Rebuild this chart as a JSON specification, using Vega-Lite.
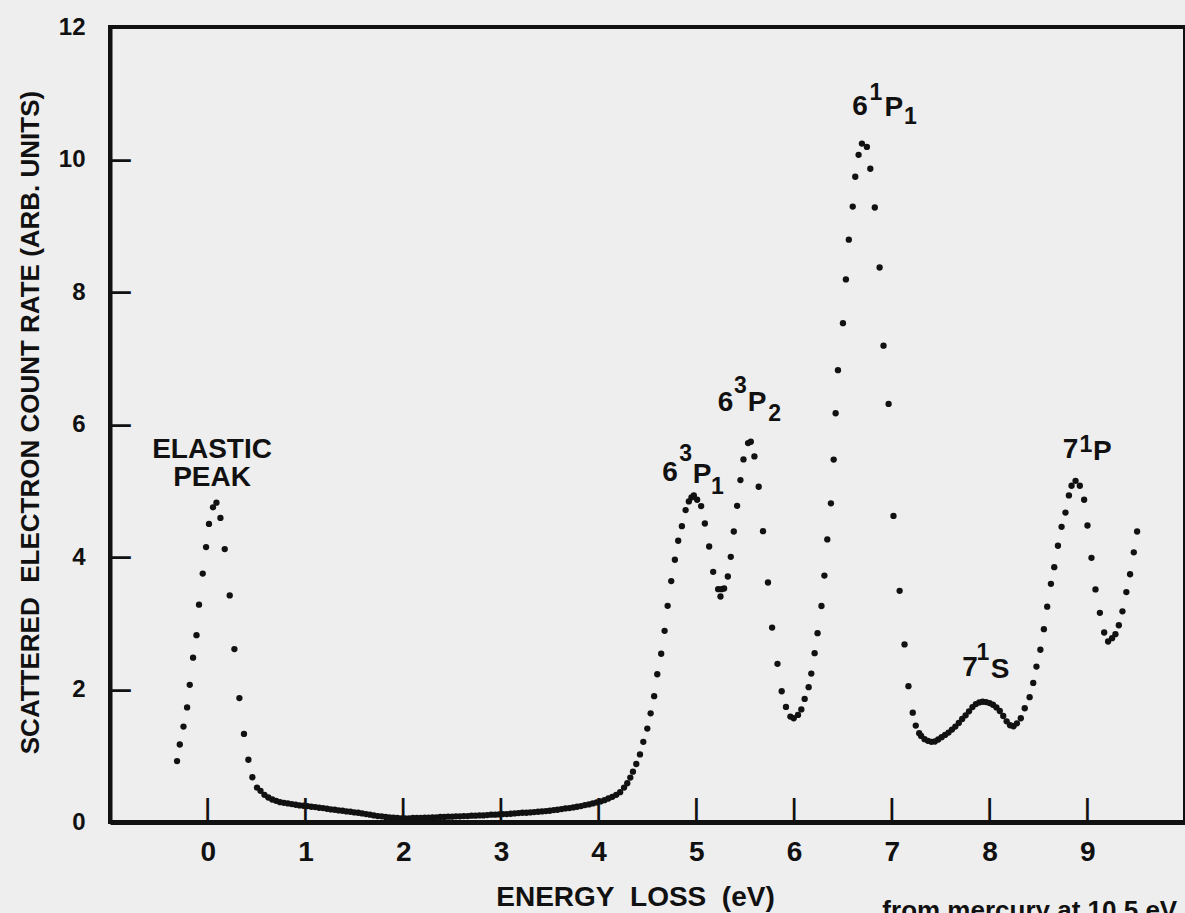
{
  "$schema": "https://vega.github.io/schema/vega-lite/v6.json",
  "width": 1075,
  "height": 795,
  "autosize": "none",
  "padding": {"left": 110, "top": 27, "right": 0, "bottom": 91},
  "background": "#eeeeee",
  "config": {
    "view": {"stroke": "#111111", "strokeWidth": 4},
    "axis": {
      "grid": false,
      "ticks": false,
      "domainColor": "#111111",
      "labelColor": "#111111",
      "titleColor": "#111111",
      "labelFont": "Liberation Sans",
      "labelFontWeight": "bold",
      "titleFont": "Liberation Sans",
      "titleFontWeight": "bold",
      "labelFlush": false,
      "labelOverlap": false,
      "format": "d"
    }
  },
  "datasets": {
    "one": [{}],
    "spectrum": [
      {"energy": -0.314, "counts": 0.92}, {"energy": -0.286, "counts": 1.17}, {"energy": -0.248, "counts": 1.44},
      {"energy": -0.211, "counts": 1.73}, {"energy": -0.184, "counts": 2.07}, {"energy": -0.150, "counts": 2.48},
      {"energy": -0.115, "counts": 2.82}, {"energy": -0.089, "counts": 3.28}, {"energy": -0.051, "counts": 3.75},
      {"energy": -0.017, "counts": 4.15}, {"energy": 0.013, "counts": 4.50}, {"energy": 0.054, "counts": 4.75},
      {"energy": 0.089, "counts": 4.82}, {"energy": 0.130, "counts": 4.59}, {"energy": 0.174, "counts": 4.12},
      {"energy": 0.225, "counts": 3.42}, {"energy": 0.273, "counts": 2.61}, {"energy": 0.324, "counts": 1.87},
      {"energy": 0.371, "counts": 1.33}, {"energy": 0.416, "counts": 0.94}, {"energy": 0.457, "counts": 0.675},
      {"energy": 0.504, "counts": 0.52},
      {"energy": 0.54, "counts": 0.47}, {"energy": 0.58, "counts": 0.41}, {"energy": 0.62, "counts": 0.37},
      {"energy": 0.66, "counts": 0.34}, {"energy": 0.70, "counts": 0.32}, {"energy": 0.74, "counts": 0.30},
      {"energy": 0.78, "counts": 0.29}, {"energy": 0.82, "counts": 0.28}, {"energy": 0.86, "counts": 0.27},
      {"energy": 0.90, "counts": 0.26}, {"energy": 0.94, "counts": 0.25}, {"energy": 0.98, "counts": 0.245},
      {"energy": 1.02, "counts": 0.24}, {"energy": 1.06, "counts": 0.23}, {"energy": 1.10, "counts": 0.225},
      {"energy": 1.14, "counts": 0.215}, {"energy": 1.18, "counts": 0.21}, {"energy": 1.22, "counts": 0.20},
      {"energy": 1.26, "counts": 0.19}, {"energy": 1.30, "counts": 0.185}, {"energy": 1.34, "counts": 0.175},
      {"energy": 1.38, "counts": 0.17}, {"energy": 1.42, "counts": 0.16}, {"energy": 1.46, "counts": 0.155},
      {"energy": 1.50, "counts": 0.145}, {"energy": 1.54, "counts": 0.14}, {"energy": 1.58, "counts": 0.13},
      {"energy": 1.62, "counts": 0.12}, {"energy": 1.66, "counts": 0.11}, {"energy": 1.70, "counts": 0.10},
      {"energy": 1.74, "counts": 0.09}, {"energy": 1.78, "counts": 0.085}, {"energy": 1.82, "counts": 0.075},
      {"energy": 1.86, "counts": 0.07}, {"energy": 1.90, "counts": 0.065}, {"energy": 1.94, "counts": 0.06},
      {"energy": 1.98, "counts": 0.055}, {"energy": 2.02, "counts": 0.055}, {"energy": 2.06, "counts": 0.055},
      {"energy": 2.10, "counts": 0.06}, {"energy": 2.14, "counts": 0.06}, {"energy": 2.18, "counts": 0.06},
      {"energy": 2.22, "counts": 0.065}, {"energy": 2.26, "counts": 0.065}, {"energy": 2.30, "counts": 0.07},
      {"energy": 2.34, "counts": 0.07}, {"energy": 2.38, "counts": 0.075}, {"energy": 2.42, "counts": 0.075},
      {"energy": 2.46, "counts": 0.08}, {"energy": 2.50, "counts": 0.08}, {"energy": 2.54, "counts": 0.085},
      {"energy": 2.58, "counts": 0.085}, {"energy": 2.62, "counts": 0.09}, {"energy": 2.66, "counts": 0.09},
      {"energy": 2.70, "counts": 0.095}, {"energy": 2.74, "counts": 0.095}, {"energy": 2.78, "counts": 0.10},
      {"energy": 2.82, "counts": 0.10}, {"energy": 2.86, "counts": 0.105}, {"energy": 2.90, "counts": 0.11},
      {"energy": 2.94, "counts": 0.11}, {"energy": 2.98, "counts": 0.115}, {"energy": 3.02, "counts": 0.12},
      {"energy": 3.06, "counts": 0.12}, {"energy": 3.10, "counts": 0.125}, {"energy": 3.14, "counts": 0.13},
      {"energy": 3.18, "counts": 0.135}, {"energy": 3.22, "counts": 0.14}, {"energy": 3.26, "counts": 0.14},
      {"energy": 3.30, "counts": 0.145}, {"energy": 3.34, "counts": 0.15}, {"energy": 3.38, "counts": 0.155},
      {"energy": 3.42, "counts": 0.16}, {"energy": 3.46, "counts": 0.165}, {"energy": 3.50, "counts": 0.17},
      {"energy": 3.54, "counts": 0.18}, {"energy": 3.58, "counts": 0.185}, {"energy": 3.62, "counts": 0.195},
      {"energy": 3.66, "counts": 0.205}, {"energy": 3.70, "counts": 0.21}, {"energy": 3.74, "counts": 0.22},
      {"energy": 3.78, "counts": 0.23}, {"energy": 3.82, "counts": 0.24}, {"energy": 3.86, "counts": 0.255},
      {"energy": 3.90, "counts": 0.265}, {"energy": 3.94, "counts": 0.28}, {"energy": 3.98, "counts": 0.295},
      {"energy": 4.02, "counts": 0.31}, {"energy": 4.06, "counts": 0.33}, {"energy": 4.10, "counts": 0.355},
      {"energy": 4.14, "counts": 0.38}, {"energy": 4.18, "counts": 0.41}, {"energy": 4.22, "counts": 0.45},
      {"energy": 4.26, "counts": 0.52}, {"energy": 4.293, "counts": 0.585}, {"energy": 4.324, "counts": 0.67},
      {"energy": 4.351, "counts": 0.76}, {"energy": 4.385, "counts": 0.876}, {"energy": 4.423, "counts": 1.02},
      {"energy": 4.457, "counts": 1.21}, {"energy": 4.498, "counts": 1.41}, {"energy": 4.532, "counts": 1.64},
      {"energy": 4.568, "counts": 1.90}, {"energy": 4.60, "counts": 2.23}, {"energy": 4.64, "counts": 2.54},
      {"energy": 4.675, "counts": 2.885}, {"energy": 4.706, "counts": 3.263}, {"energy": 4.743, "counts": 3.636},
      {"energy": 4.78, "counts": 3.958}, {"energy": 4.814, "counts": 4.245}, {"energy": 4.852, "counts": 4.466},
      {"energy": 4.89, "counts": 4.708}, {"energy": 4.923, "counts": 4.839}, {"energy": 4.95, "counts": 4.90},
      {"energy": 4.974, "counts": 4.93}, {"energy": 5.008, "counts": 4.864}, {"energy": 5.049, "counts": 4.768},
      {"energy": 5.087, "counts": 4.506}, {"energy": 5.131, "counts": 4.159}, {"energy": 5.172, "counts": 3.776},
      {"energy": 5.223, "counts": 3.515}, {"energy": 5.247, "counts": 3.404}, {"energy": 5.257, "counts": 3.515},
      {"energy": 5.284, "counts": 3.524}, {"energy": 5.322, "counts": 3.706}, {"energy": 5.352, "counts": 4.003},
      {"energy": 5.383, "counts": 4.385}, {"energy": 5.417, "counts": 4.773}, {"energy": 5.451, "counts": 5.161},
      {"energy": 5.482, "counts": 5.473}, {"energy": 5.529, "counts": 5.72}, {"energy": 5.557, "counts": 5.74},
      {"energy": 5.594, "counts": 5.518}, {"energy": 5.638, "counts": 5.06}, {"energy": 5.682, "counts": 4.39},
      {"energy": 5.733, "counts": 3.615}, {"energy": 5.775, "counts": 2.935}, {"energy": 5.83, "counts": 2.387},
      {"energy": 5.873, "counts": 1.974}, {"energy": 5.917, "counts": 1.737}, {"energy": 5.962, "counts": 1.591},
      {"energy": 5.996, "counts": 1.566}, {"energy": 6.04, "counts": 1.616}, {"energy": 6.074, "counts": 1.70},
      {"energy": 6.108, "counts": 1.858}, {"energy": 6.149, "counts": 2.035}, {"energy": 6.176, "counts": 2.24},
      {"energy": 6.21, "counts": 2.548}, {"energy": 6.24, "counts": 2.85}, {"energy": 6.28, "counts": 3.26},
      {"energy": 6.31, "counts": 3.72}, {"energy": 6.34, "counts": 4.265}, {"energy": 6.377, "counts": 4.81},
      {"energy": 6.405, "counts": 5.47}, {"energy": 6.425, "counts": 6.17}, {"energy": 6.449, "counts": 6.82},
      {"energy": 6.50, "counts": 7.53}, {"energy": 6.53, "counts": 8.19}, {"energy": 6.56, "counts": 8.79},
      {"energy": 6.60, "counts": 9.29}, {"energy": 6.626, "counts": 9.74}, {"energy": 6.66, "counts": 10.07},
      {"energy": 6.694, "counts": 10.24}, {"energy": 6.745, "counts": 10.19}, {"energy": 6.78, "counts": 9.86},
      {"energy": 6.826, "counts": 9.275}, {"energy": 6.875, "counts": 8.37}, {"energy": 6.915, "counts": 7.19},
      {"energy": 6.967, "counts": 6.31}, {"energy": 7.017, "counts": 4.62}, {"energy": 7.08, "counts": 3.49},
      {"energy": 7.13, "counts": 2.68}, {"energy": 7.17, "counts": 2.05}, {"energy": 7.214, "counts": 1.65},
      {"energy": 7.245, "counts": 1.455}, {"energy": 7.28, "counts": 1.34},
      {"energy": 7.30, "counts": 1.30}, {"energy": 7.335, "counts": 1.25}, {"energy": 7.37, "counts": 1.225},
      {"energy": 7.405, "counts": 1.21}, {"energy": 7.44, "counts": 1.215}, {"energy": 7.475, "counts": 1.245},
      {"energy": 7.51, "counts": 1.28}, {"energy": 7.545, "counts": 1.315}, {"energy": 7.58, "counts": 1.35},
      {"energy": 7.615, "counts": 1.395}, {"energy": 7.65, "counts": 1.44}, {"energy": 7.685, "counts": 1.495},
      {"energy": 7.72, "counts": 1.555}, {"energy": 7.755, "counts": 1.61}, {"energy": 7.79, "counts": 1.67},
      {"energy": 7.825, "counts": 1.735}, {"energy": 7.86, "counts": 1.78}, {"energy": 7.895, "counts": 1.805},
      {"energy": 7.93, "counts": 1.815}, {"energy": 7.965, "counts": 1.81}, {"energy": 8.00, "counts": 1.795},
      {"energy": 8.035, "counts": 1.77}, {"energy": 8.07, "counts": 1.73}, {"energy": 8.105, "counts": 1.675},
      {"energy": 8.14, "counts": 1.60}, {"energy": 8.175, "counts": 1.52}, {"energy": 8.21, "counts": 1.46},
      {"energy": 8.245, "counts": 1.445}, {"energy": 8.28, "counts": 1.49}, {"energy": 8.32, "counts": 1.566},
      {"energy": 8.36, "counts": 1.717}, {"energy": 8.41, "counts": 1.884}, {"energy": 8.447, "counts": 2.10},
      {"energy": 8.48, "counts": 2.346}, {"energy": 8.52, "counts": 2.60}, {"energy": 8.556, "counts": 2.91},
      {"energy": 8.59, "counts": 3.25}, {"energy": 8.628, "counts": 3.595}, {"energy": 8.662, "counts": 3.847},
      {"energy": 8.70, "counts": 4.17}, {"energy": 8.737, "counts": 4.456}, {"energy": 8.777, "counts": 4.67},
      {"energy": 8.812, "counts": 4.93}, {"energy": 8.839, "counts": 5.076}, {"energy": 8.88, "counts": 5.15},
      {"energy": 8.924, "counts": 5.076}, {"energy": 8.968, "counts": 4.864}, {"energy": 9.002, "counts": 4.476},
      {"energy": 9.043, "counts": 3.988}, {"energy": 9.084, "counts": 3.51}, {"energy": 9.129, "counts": 3.157},
      {"energy": 9.173, "counts": 2.86}, {"energy": 9.213, "counts": 2.724}, {"energy": 9.254, "counts": 2.775},
      {"energy": 9.288, "counts": 2.835}, {"energy": 9.323, "counts": 2.97}, {"energy": 9.36, "counts": 3.18},
      {"energy": 9.40, "counts": 3.47}, {"energy": 9.438, "counts": 3.74}, {"energy": 9.476, "counts": 4.07},
      {"energy": 9.51, "counts": 4.385}
    ],
    "labels": [
      {"x": 0.044, "y": 5.615, "text": "ELASTIC", "part": "main"},
      {"x": 0.044, "y": 5.19, "text": "PEAK", "part": "main"},
      {"x": 4.731, "y": 5.268, "text": "6", "part": "main"},
      {"x": 4.890, "y": 5.555, "text": "3", "part": "script"},
      {"x": 5.058, "y": 5.238, "text": "P", "part": "main"},
      {"x": 5.215, "y": 5.057, "text": "1", "part": "script"},
      {"x": 5.298, "y": 6.325, "text": "6", "part": "main"},
      {"x": 5.450, "y": 6.581, "text": "3", "part": "script"},
      {"x": 5.622, "y": 6.332, "text": "P", "part": "main"},
      {"x": 5.800, "y": 6.166, "text": "2", "part": "script"},
      {"x": 6.675, "y": 10.785, "text": "6", "part": "main"},
      {"x": 6.838, "y": 11.011, "text": "1", "part": "script"},
      {"x": 7.022, "y": 10.777, "text": "P", "part": "main"},
      {"x": 7.190, "y": 10.634, "text": "1", "part": "script"},
      {"x": 7.800, "y": 2.325, "text": "7", "part": "main"},
      {"x": 7.933, "y": 2.558, "text": "1", "part": "script"},
      {"x": 8.107, "y": 2.294, "text": "S", "part": "main"},
      {"x": 8.828, "y": 5.615, "text": "7", "part": "main"},
      {"x": 8.987, "y": 5.691, "text": "1", "part": "script"},
      {"x": 9.155, "y": 5.585, "text": "P", "part": "main"}
    ]
  },
  "layer": [
    {
      "data": {"name": "spectrum"},
      "mark": {"type": "point", "filled": true, "size": 40, "color": "#111111", "opacity": 1},
      "encoding": {
        "x": {
          "field": "energy",
          "type": "quantitative",
          "scale": {"domain": [-1, 10], "nice": false, "zero": false},
          "axis": {
            "title": "ENERGY\u00a0\u00a0LOSS\u00a0\u00a0(eV)",
            "values": [0, 1, 2, 3, 4, 5, 6, 7, 8, 9],
            "domainWidth": 5,
            "labelFontSize": 28,
            "labelPadding": 16,
            "titleFontSize": 28,
            "titleX": 525,
            "titleY": 75,
            "titleAlign": "center",
            "titleBaseline": "middle"
          }
        },
        "y": {
          "field": "counts",
          "type": "quantitative",
          "scale": {"domain": [0, 12], "nice": false},
          "axis": {
            "title": "SCATTERED\u00a0\u00a0ELECTRON COUNT RATE (ARB. UNITS)",
            "values": [0, 2, 4, 6, 8, 10, 12],
            "domainWidth": 4,
            "labelFontSize": 24,
            "labelPadding": 25,
            "titleFontSize": 26,
            "titleAngle": -90,
            "titleX": -80,
            "titleY": 395,
            "titleAlign": "center",
            "titleBaseline": "middle"
          }
        }
      }
    },
    {"data": {"name": "one"}, "mark": {"type": "text", "text": "|", "font": "DejaVu Sans", "fontWeight": "bold", "fontSize": 24, "color": "#111111", "align": "center", "baseline": "middle", "clip": false}, "encoding": {"x": {"datum": 0}, "y": {"datum": 0.18}}},
    {"data": {"name": "one"}, "mark": {"type": "text", "text": "|", "font": "DejaVu Sans", "fontWeight": "bold", "fontSize": 24, "color": "#111111", "align": "center", "baseline": "middle", "clip": false}, "encoding": {"x": {"datum": 1}, "y": {"datum": 0.18}}},
    {"data": {"name": "one"}, "mark": {"type": "text", "text": "|", "font": "DejaVu Sans", "fontWeight": "bold", "fontSize": 24, "color": "#111111", "align": "center", "baseline": "middle", "clip": false}, "encoding": {"x": {"datum": 2}, "y": {"datum": 0.18}}},
    {"data": {"name": "one"}, "mark": {"type": "text", "text": "|", "font": "DejaVu Sans", "fontWeight": "bold", "fontSize": 24, "color": "#111111", "align": "center", "baseline": "middle", "clip": false}, "encoding": {"x": {"datum": 3}, "y": {"datum": 0.18}}},
    {"data": {"name": "one"}, "mark": {"type": "text", "text": "|", "font": "DejaVu Sans", "fontWeight": "bold", "fontSize": 24, "color": "#111111", "align": "center", "baseline": "middle", "clip": false}, "encoding": {"x": {"datum": 4}, "y": {"datum": 0.18}}},
    {"data": {"name": "one"}, "mark": {"type": "text", "text": "|", "font": "DejaVu Sans", "fontWeight": "bold", "fontSize": 24, "color": "#111111", "align": "center", "baseline": "middle", "clip": false}, "encoding": {"x": {"datum": 5}, "y": {"datum": 0.18}}},
    {"data": {"name": "one"}, "mark": {"type": "text", "text": "|", "font": "DejaVu Sans", "fontWeight": "bold", "fontSize": 24, "color": "#111111", "align": "center", "baseline": "middle", "clip": false}, "encoding": {"x": {"datum": 6}, "y": {"datum": 0.18}}},
    {"data": {"name": "one"}, "mark": {"type": "text", "text": "|", "font": "DejaVu Sans", "fontWeight": "bold", "fontSize": 24, "color": "#111111", "align": "center", "baseline": "middle", "clip": false}, "encoding": {"x": {"datum": 7}, "y": {"datum": 0.18}}},
    {"data": {"name": "one"}, "mark": {"type": "text", "text": "|", "font": "DejaVu Sans", "fontWeight": "bold", "fontSize": 24, "color": "#111111", "align": "center", "baseline": "middle", "clip": false}, "encoding": {"x": {"datum": 8}, "y": {"datum": 0.18}}},
    {"data": {"name": "one"}, "mark": {"type": "text", "text": "|", "font": "DejaVu Sans", "fontWeight": "bold", "fontSize": 24, "color": "#111111", "align": "center", "baseline": "middle", "clip": false}, "encoding": {"x": {"datum": 9}, "y": {"datum": 0.18}}},
    {"data": {"name": "one"}, "mark": {"type": "text", "text": "\u2014", "font": "DejaVu Sans", "fontWeight": "bold", "fontSize": 22, "color": "#111111", "align": "left", "baseline": "middle", "clip": false}, "encoding": {"x": {"datum": -1}, "y": {"datum": 2}}},
    {"data": {"name": "one"}, "mark": {"type": "text", "text": "\u2014", "font": "DejaVu Sans", "fontWeight": "bold", "fontSize": 22, "color": "#111111", "align": "left", "baseline": "middle", "clip": false}, "encoding": {"x": {"datum": -1}, "y": {"datum": 4}}},
    {"data": {"name": "one"}, "mark": {"type": "text", "text": "\u2014", "font": "DejaVu Sans", "fontWeight": "bold", "fontSize": 22, "color": "#111111", "align": "left", "baseline": "middle", "clip": false}, "encoding": {"x": {"datum": -1}, "y": {"datum": 6}}},
    {"data": {"name": "one"}, "mark": {"type": "text", "text": "\u2014", "font": "DejaVu Sans", "fontWeight": "bold", "fontSize": 22, "color": "#111111", "align": "left", "baseline": "middle", "clip": false}, "encoding": {"x": {"datum": -1}, "y": {"datum": 8}}},
    {"data": {"name": "one"}, "mark": {"type": "text", "text": "\u2014", "font": "DejaVu Sans", "fontWeight": "bold", "fontSize": 22, "color": "#111111", "align": "left", "baseline": "middle", "clip": false}, "encoding": {"x": {"datum": -1}, "y": {"datum": 10}}},
    {
      "data": {"name": "labels"},
      "mark": {"type": "text", "font": "Liberation Sans", "fontWeight": "bold", "color": "#111111", "align": "center", "baseline": "middle"},
      "encoding": {
        "x": {"field": "x", "type": "quantitative"},
        "y": {"field": "y", "type": "quantitative"},
        "text": {"field": "text"},
        "size": {"field": "part", "type": "nominal", "scale": {"domain": ["main", "script"], "range": [28, 23]}, "legend": null}
      }
    },
    {
      "data": {"name": "one"},
      "mark": {"type": "text", "text": "from mercury at 10.5 eV", "font": "Liberation Sans", "fontWeight": "bold", "fontSize": 26, "color": "#111111", "align": "right", "baseline": "middle", "clip": false},
      "encoding": {
        "x": {"datum": 9.92},
        "y": {"datum": -1.35}
      }
    }
  ]
}
